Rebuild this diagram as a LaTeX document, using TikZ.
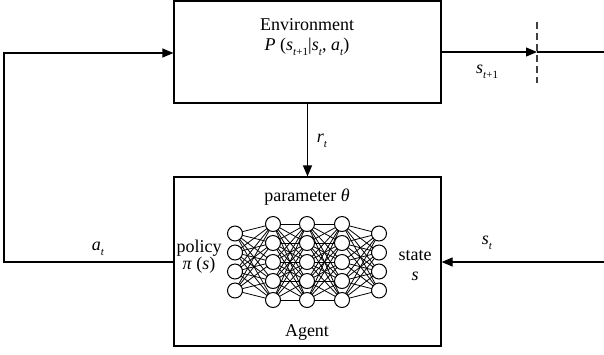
\documentclass[tikz,border=0pt]{standalone}
\usepackage{fontspec}
\setmainfont{Liberation Serif}
\usetikzlibrary{arrows.meta}

% italic variable with a lowered small subscript
\newcommand{\vsub}[2]{\textit{#1}\raisebox{-0.6ex}{\fontsize{11}{11}\selectfont #2}}

\begin{document}
\begin{tikzpicture}[x=1pt,y=-1pt,
  every node/.style={font=\fontsize{18}{20}\selectfont},
  block/.style={draw,line width=1.2pt,inner sep=0pt},
  wire/.style={line width=1.2pt},
  arrowline/.style={wire,-{Triangle[length=11pt,width=9pt]}},
  neuron/.style={circle,draw,line width=1pt,fill=white,minimum size=15pt,inner sep=0pt},
  synapse/.style={line width=0.8pt}]

\useasboundingbox (0,0) rectangle (604,354);

% the two boxes
\node[block,minimum width=267pt,minimum height=102pt] (env) at (307.5,52) {};
\node[block,minimum width=267pt,minimum height=169pt] (agent) at (307.5,261.5) {};

% environment texts
\node (envname) at (307,25) {Environment};
\node (envprob) at (307,47) {\textit{P} (\vsub{s}{\textit{t}+1}|\vsub{s}{\textit{t}}, \vsub{a}{\textit{t}})};

% agent texts
\node (param) at (307,197) {parameter \textit{θ}};
\node (policy) at (199,248) {policy};
\node (pis) at (199,265) {\textit{π} (\textit{s})};
\node (state) at (415,256) {state};
\node (stvar) at (415,276) {\textit{s}};
\node (agentname) at (307,332) {Agent};

% neural network: layer sizes 4-5-5-5-4
\foreach \l/\x/\n in {1/235/4,2/273/5,3/307/5,4/342/5,5/379/4}{
  \foreach \i in {1,...,\n}{
    \coordinate (n\l-\i) at (\x,{262+19*(\i-(\n+1)/2)});
  }
}
\foreach \a/\na/\b/\nb in {1/4/2/5,2/5/3/5,3/5/4/5,4/5/5/4}{
  \foreach \i in {1,...,\na}{
    \foreach \j in {1,...,\nb}{
      \draw[synapse] (n\a-\i) -- (n\b-\j);
    }
  }
}
\foreach \l/\n in {1/4,2/5,3/5,4/5,5/4}{
  \foreach \i in {1,...,\n}{
    \node[neuron] (c\l-\i) at (n\l-\i) {};
  }
}

% reward
\draw[arrowline] (env.south) -- (agent.north);
\node (rt) at (322,141) {\vsub{r}{\textit{t}}};

% action loop on the left
\coordinate (aout) at (agent.west |- 0,262);
\coordinate (bl) at (4,262);
\coordinate (tl) at (4,53);
\coordinate (ain) at (env.west |- 0,53);
\draw[arrowline] (aout) -- (bl) -- (tl) -- (ain);
\node (at) at (98,249) {\vsub{a}{\textit{t}}};

% state input on the right
\coordinate (sin) at (604,262);
\coordinate (sag) at (agent.east |- 0,262);
\draw[arrowline] (sin) -- (sag);
\node (st) at (487,243) {\vsub{s}{\textit{t}}};

% next state output
\coordinate (eout) at (env.east |- 0,52);
\coordinate (cut) at (537,52);
\coordinate (rend) at (604,52);
\draw[arrowline] (eout) -- (cut);
\draw[wire] (cut) -- (rend);
\coordinate (cuttop) at (537,22);
\coordinate (cutbot) at (537,83);
\draw[line width=1.4pt,draw=black!75,dash pattern=on 7pt off 4pt] (cuttop) -- (cutbot);
\node (snext) at (487,72) {\vsub{s}{\textit{t}+1}};

\end{tikzpicture}
\end{document}
